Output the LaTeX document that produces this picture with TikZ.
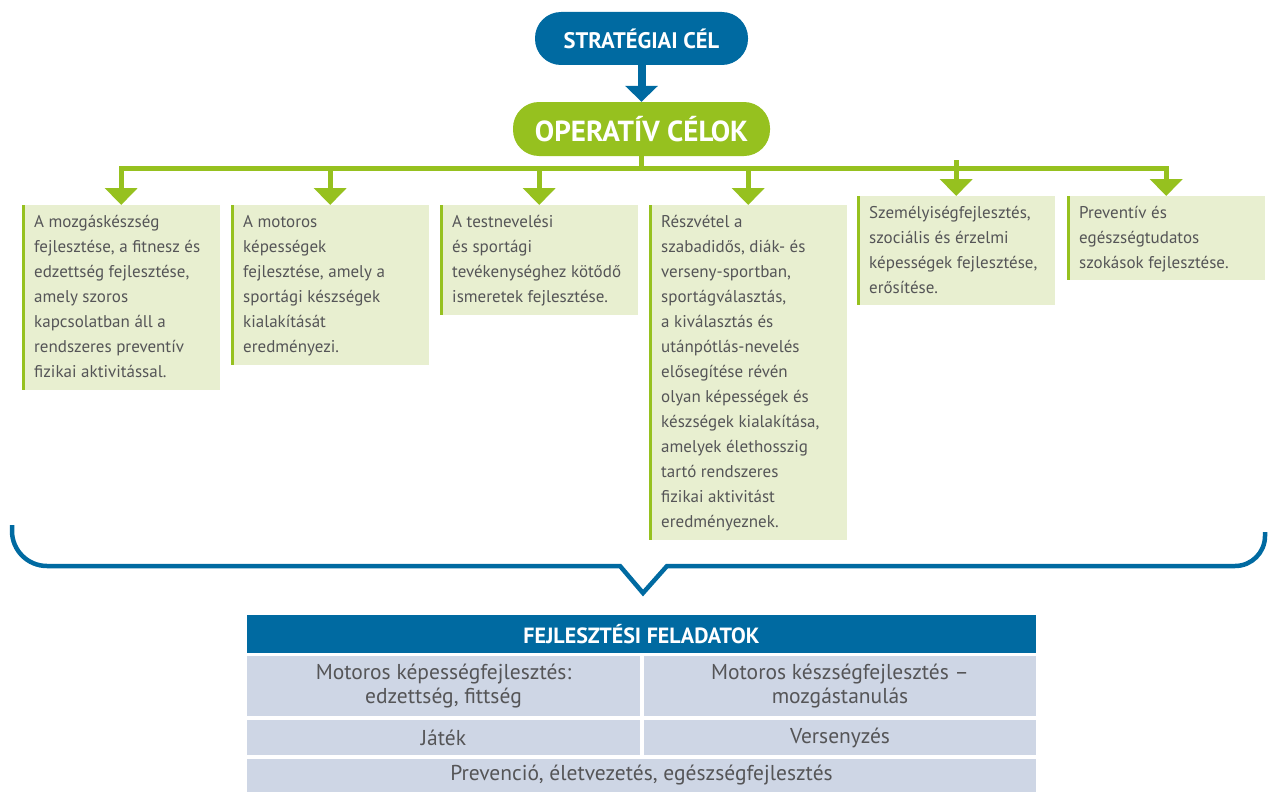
\documentclass[tikz,border=0pt]{standalone}
\usepackage{fontspec}
\setmainfont{PT Sans}
\usetikzlibrary{arrows.meta}
\definecolor{cblue}{HTML}{006AA1}
\definecolor{cgreen}{HTML}{96C11F}
\definecolor{cbox}{HTML}{E8EFD0}
\definecolor{ccell}{HTML}{CED6E5}
\definecolor{ctext}{HTML}{555557}
\newcommand{\bstrut}{\rule{0pt}{17pt}\rule[-8pt]{0pt}{0pt}}
\tikzset{
  pill/.style={rounded corners=26pt, text=white, font=\bfseries, inner sep=0pt},
  gbox/.style={fill=cbox, inner sep=0pt, anchor=north west,
    path picture={\fill[cgreen] (path picture bounding box.north west) rectangle ([xshift=3pt]path picture bounding box.south west);}},
  btext/.style={inner sep=0pt, anchor=north west, align=left, text=ctext,
    font=\fontsize{17}{25}\selectfont},
  gline/.style={draw=cgreen, line width=5pt},
  garrow/.style={draw=cgreen, line width=5pt, -{Triangle[width=32pt,length=17pt]}},
  cell/.style={fill=ccell, inner sep=0pt, text=ctext, align=center, font=\fontsize{21.5}{24}\selectfont},
}
\begin{document}
\begin{tikzpicture}[x=1pt,y=-1pt]
\useasboundingbox (0,0) rectangle (1268,792);

% top pills
\node[pill, fill=cblue, minimum width=213pt, minimum height=53pt, font=\bfseries\fontsize{22.5}{26}\selectfont] (strat) at (641.5,38.5) {STRATÉGIAI CÉL};
\node[pill, fill=cgreen, minimum width=257pt, minimum height=54pt, font=\bfseries\fontsize{29}{32}\selectfont] (op) at (641.5,129) {OPERATÍV CÉLOK};
\draw[draw=cblue, line width=8pt, -{Triangle[width=32pt,length=16pt]}] (strat.south) -- (op.north);

% boxes
\node[gbox, minimum width=198pt, minimum height=185pt] (b1) at (22,205) {};
\node[gbox, minimum width=198pt, minimum height=160pt] (b2) at (231,205) {};
\node[gbox, minimum width=198pt, minimum height=110pt] (b3) at (440,205) {};
\node[gbox, minimum width=198pt, minimum height=335pt] (b4) at (649,205) {};
\node[gbox, minimum width=198pt, minimum height=109pt] (b5) at (857,196) {};
\node[gbox, minimum width=198pt, minimum height=84pt] (b6) at (1067,196) {};

\node[btext] (t1) at ([shift={(12pt,-5pt)}]b1.north west) {\bstrut A mozgáskészség\\fejlesztése, a fitnesz és\\edzettség fejlesztése,\\amely szoros\\kapcsolatban áll a\\rendszeres preventív\\fizikai aktivitással.\bstrut};
\node[btext] (t2) at ([shift={(12pt,-5pt)}]b2.north west) {\bstrut A motoros\\képességek\\fejlesztése, amely a\\sportági készségek\\kialakítását\\eredményezi.\bstrut};
\node[btext] (t3) at ([shift={(12pt,-5pt)}]b3.north west) {\bstrut A testnevelési\\és sportági\\tevékenységhez kötődő\\ismeretek fejlesztése.\bstrut};
\node[btext] (t4) at ([shift={(12pt,-5pt)}]b4.north west) {\bstrut Részvétel a\\szabadidős, diák- és\\verseny-sportban,\\sportágválasztás,\\a kiválasztás és\\utánpótlás-nevelés\\elősegítése révén\\olyan képességek és\\készségek kialakítása,\\amelyek élethosszig\\tartó rendszeres\\fizikai aktivitást\\eredményeznek.\bstrut};
\node[btext] (t5) at ([shift={(12pt,-5pt)}]b5.north west) {\bstrut Személyiségfejlesztés,\\szociális és érzelmi\\képességek fejlesztése,\\erősítése.\bstrut};
\node[btext] (t6) at ([shift={(12pt,-5pt)}]b6.north west) {\bstrut Preventív és\\egészségtudatos\\szokások fejlesztése.\bstrut};

% green connectors
\coordinate (jc) at (641.5,168);
\coordinate (j1) at (b1.north |- jc);
\coordinate (j2) at (b2.north |- jc);
\coordinate (j3) at (b3.north |- jc);
\coordinate (j4) at (b4.north |- jc);
\coordinate (j5) at (b5.north |- jc);
\coordinate (j6) at (b6.north |- jc);
\coordinate (j5top) at (956,160);
\draw[gline] (op.south) -- (jc);
\draw[gline, line cap=rect] (j1) -- (j6);
\draw[garrow] (j1) -- (b1.north);
\draw[garrow] (j2) -- (b2.north);
\draw[garrow] (j3) -- (b3.north);
\draw[garrow] (j4) -- (b4.north);
\draw[garrow] (j5top -| b5.north) -- (b5.north);
\draw[garrow] (j6) -- (b6.north);

% bracket
\draw[cblue, line width=4.5pt] (12,525) [rounded corners=35pt] -- (12,566) [sharp corners] -- (620,566) -- (643,593) -- (667,566) [rounded corners=30pt] -- (1265,566) -- (1265,532);

% table
\node[fill=cblue, inner sep=0pt, minimum width=789pt, minimum height=38pt, text=white, font=\bfseries\fontsize{22}{25}\selectfont] (hd) at (641.5,634) {FEJLESZTÉSI FELADATOK};
\node[cell, minimum width=393pt, minimum height=60pt] (c11) at (443.5,686) {Motoros képességfejlesztés:\\edzettség, fittség};
\node[cell, minimum width=392pt, minimum height=60pt] (c12) at (840,686) {Motoros készségfejlesztés –\\mozgástanulás};
\node[cell, minimum width=393pt, minimum height=35pt] (c21) at (443.5,737.5) {Játék};
\node[cell, minimum width=392pt, minimum height=35pt] (c22) at (840,737.5) {Versenyzés};
\node[cell, minimum width=789pt, minimum height=33pt] (c3) at (641.5,775.5) {Prevenció, életvezetés, egészségfejlesztés};
\end{tikzpicture}
\end{document}
